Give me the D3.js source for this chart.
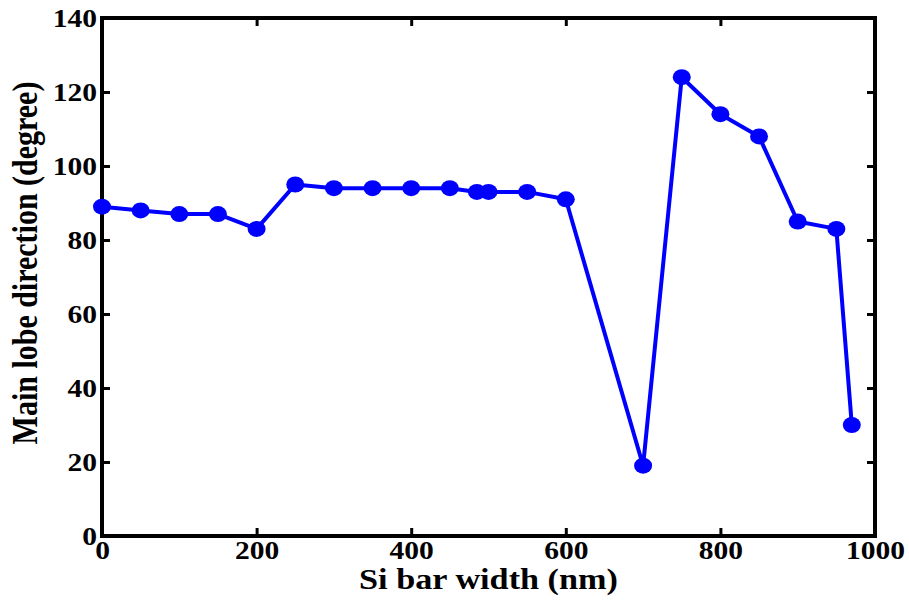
<!DOCTYPE html>
<html><head><meta charset="utf-8">
<script src="https://cdn.jsdelivr.net/npm/d3@7"></script>
<style>body{margin:0;background:#fff}svg{display:block}</style>
</head><body>
<script>
const widths = [0,50,100,150,200,250,300,350,400,450,485,500,550,600,700,750,800,850,900,950,970];
const angles = [89,88,87,87,83,95,94,94,94,94,93,93,93,91,19,124,114,108,85,83,30];
const xTicks = [0,200,400,600,800,1000];
const yTicks = [0,20,40,60,80,100,120,140];
const xTitle = "Si bar width (nm)";
const yTitle = "Main lobe direction (degree)";

const W=909,H=606;
const m={l:102,r:909-875,t:18,b:606-536};
const svg=d3.select("body").append("svg").attr("width",W).attr("height",H);
const x=d3.scaleLinear().domain([0,1000]).range([m.l,W-m.r]);
const y=d3.scaleLinear().domain([0,140]).range([H-m.b,m.t]);
const font="Liberation Serif";
const sx=1.18;

const axStyle=g=>{g.select(".domain").remove();g.selectAll("line").attr("stroke","#000").attr("stroke-width",3);
  g.selectAll("text").style("font-family",font).attr("font-weight","bold").attr("font-size",25).attr("fill","#000")
   .attr("transform",function(){const xa=+(this.getAttribute("x")||0);return `translate(${xa},0) scale(${sx},1) translate(${-xa},0)`;});};

svg.append("g").attr("transform",`translate(0,${y(0)})`)
  .call(d3.axisBottom(x).tickValues(xTicks).tickFormat(d3.format("d")).tickSizeInner(-8).tickPadding(5))
  .call(axStyle).call(g=>g.selectAll("text").attr("dy","0.71em"));
svg.append("g").attr("transform",`translate(0,${y(140)})`)
  .call(d3.axisTop(x).tickValues(xTicks).tickFormat("").tickSizeInner(-8)).call(axStyle);
svg.append("g").attr("transform",`translate(${x(0)},0)`)
  .call(d3.axisLeft(y).tickValues(yTicks).tickFormat(d3.format("d")).tickSizeInner(-8).tickPadding(5))
  .call(axStyle);
svg.append("g").attr("transform",`translate(${x(1000)},0)`)
  .call(d3.axisRight(y).tickValues(yTicks).tickFormat("").tickSizeInner(-8)).call(axStyle);

svg.append("rect").attr("x",x(0)).attr("y",y(140)).attr("width",x(1000)-x(0)).attr("height",y(0)-y(140))
  .attr("fill","none").attr("stroke","#000").attr("stroke-width",4);

const data=widths.map((w,i)=>({w,a:angles[i]}));
svg.append("path").datum(data).attr("fill","none").attr("stroke","#0000ff").attr("stroke-width",4)
  .attr("stroke-linejoin","round")
  .attr("d",d3.line().x(d=>x(d.w)).y(d=>y(d.a)));
svg.append("g").selectAll("ellipse").data(data).join("ellipse")
  .attr("cx",d=>x(d.w)).attr("cy",d=>y(d.a)).attr("rx",9).attr("ry",8).attr("fill","#0000ff");

const cx=(x(0)+x(1000))/2;
svg.append("text").attr("transform",`translate(${cx},589) scale(${sx},1)`).attr("text-anchor","middle")
  .style("font-family",font).attr("font-weight","bold").attr("font-size",29).text(xTitle);
svg.append("text").attr("transform",`translate(37,263) rotate(-90) scale(1,${sx})`).attr("text-anchor","middle")
  .style("font-family",font).attr("font-weight","bold").attr("font-size",30).text(yTitle);
</script>
</body></html>
